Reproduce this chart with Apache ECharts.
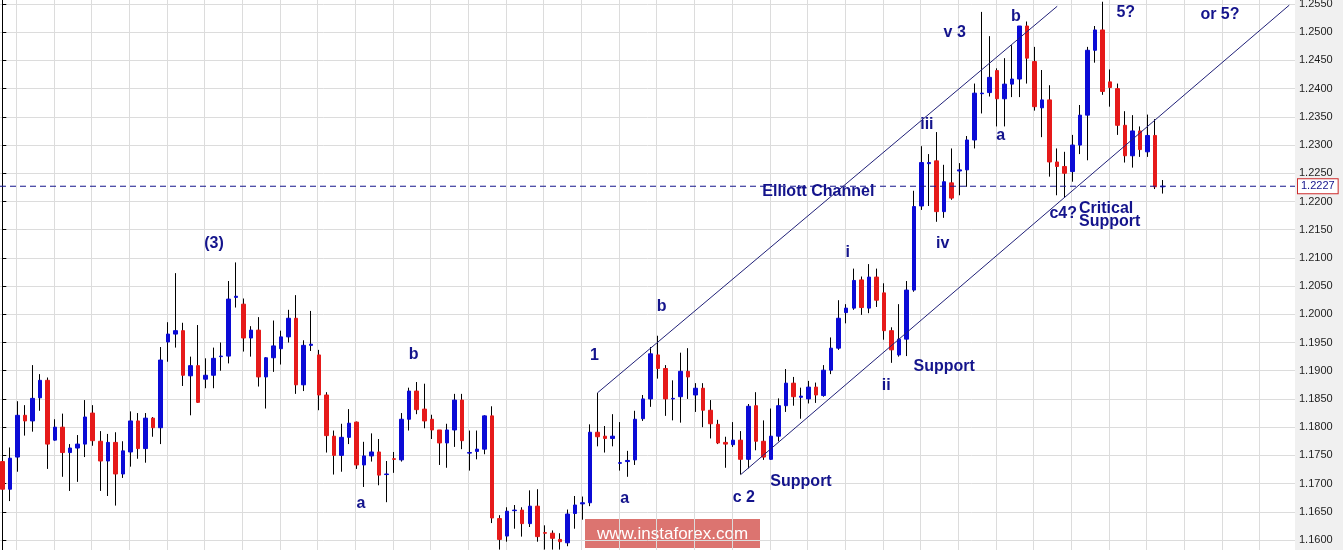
<!DOCTYPE html>
<html><head><meta charset="utf-8">
<script src="https://cdn.jsdelivr.net/npm/echarts@6/dist/echarts.min.js"></script>
<style>html,body{margin:0;padding:0;background:#f0f0f0;overflow:hidden}#c{width:1343px;height:550px}</style>
</head><body><div id="c"></div>
<script>
const opens = [
1.1739,1.1690,1.1747,1.1821,1.1811,1.1852,1.1883,1.1777,1.1800,1.1755,
1.1763,1.1770,1.1825,1.1775,1.1740,1.1773,1.1717,1.1756,1.1811,1.1762,
1.1816,1.1799,1.1951,1.1965,1.1971,1.1891,1.1909,1.1885,1.1892,1.1925,
1.1926,1.2030,1.2018,1.1958,1.1972,1.1889,1.1923,1.1939,1.1960,1.1993,
1.1875,1.1945,1.1928,1.1857,1.1784,1.1750,1.1782,1.1809,1.1733,1.1749,
1.1756,1.1716,1.1744,1.1742,1.1814,1.1864,1.1832,1.1814,1.1795,1.1772,
1.1795,1.1848,1.1754,1.1757,1.1761,1.1820,1.1638,1.1607,1.1652,1.1653,
1.1629,1.1660,1.1613,1.1612,1.1601,1.1595,1.1647,1.1664,1.1666,1.1791,
1.1784,1.1780,1.1736,1.1739,1.1742,1.1815,1.1850,1.1928,1.1904,1.1850,
1.1854,1.1899,1.1857,1.1869,1.1830,1.1805,1.1773,1.1769,1.1777,1.1743,
1.1838,1.1775,1.1743,1.1784,1.1838,1.1878,1.1853,1.1850,1.1871,1.1856,
1.1901,1.1940,1.2003,1.2011,1.2061,1.2011,1.2066,1.2038,1.1971,1.1928,
1.1956,1.2043,1.2192,1.2267,1.2272,1.2182,1.2233,1.2254,1.2256,1.2309,
1.2391,1.2393,1.2432,1.2382,1.2408,1.2417,1.2511,1.2448,1.2366,1.2380,
1.2270,1.2262,1.2253,1.2300,1.2353,1.2468,1.2504,1.2412,1.2400,1.2335,
1.2281,1.2325,1.2288,1.2317,1.2226];
const highs = [
1.1777,1.1764,1.1846,1.1839,1.1910,1.1894,1.1888,1.1814,1.1824,1.1770,
1.1786,1.1848,1.1839,1.1793,1.1788,1.1791,1.1775,1.1828,1.1825,1.1825,
1.1818,1.1942,1.1986,1.2073,1.1985,1.1925,1.1981,1.1922,1.1941,1.1950,
1.2059,1.2092,1.2028,1.1979,1.1995,1.1924,1.1989,1.1971,1.2008,1.2034,
1.1954,1.2006,1.1937,1.1862,1.1794,1.1806,1.1832,1.1810,1.1774,1.1789,
1.1779,1.1740,1.1756,1.1825,1.1870,1.1880,1.1877,1.1822,1.1795,1.1806,
1.1859,1.1859,1.1794,1.1794,1.1821,1.1837,1.1644,1.1658,1.1662,1.1658,
1.1688,1.1690,1.1626,1.1617,1.1612,1.1654,1.1678,1.1677,1.1805,1.1861,
1.1802,1.1823,1.1809,1.1758,1.1829,1.1857,1.1942,1.1962,1.1910,1.1883,
1.1932,1.1940,1.1878,1.1878,1.1848,1.1813,1.1783,1.1809,1.1793,1.1841,
1.1862,1.1812,1.1833,1.1851,1.1903,1.1889,1.1870,1.1882,1.1879,1.1910,
1.1959,1.2025,1.2018,1.2081,1.2067,1.2089,1.2081,1.2055,1.1977,1.2018,
1.2059,1.2219,1.2298,1.2284,1.2323,1.2265,1.2294,1.2268,1.2316,1.2409,
1.2536,1.2493,1.2436,1.2454,1.2477,1.2511,1.2519,1.2474,1.2433,1.2406,
1.2294,1.2288,1.2318,1.2371,1.2474,1.2511,1.2554,1.2434,1.2409,1.2360,
1.2353,1.2333,1.2354,1.2346,1.2238];
const lows = [
1.1661,1.1669,1.1721,1.1785,1.1792,1.1829,1.1726,1.1776,1.1712,1.1687,
1.1703,1.1747,1.1767,1.1687,1.1678,1.1661,1.1710,1.1730,1.1744,1.1737,
1.1783,1.1770,1.1916,1.1941,1.1873,1.1821,1.1843,1.1869,1.1869,1.1900,
1.1913,1.2012,1.1934,1.1925,1.1872,1.1833,1.1898,1.1911,1.1950,1.1859,
1.1864,1.1935,1.1830,1.1755,1.1716,1.1721,1.1770,1.1726,1.1694,1.1739,
1.1697,1.1667,1.1719,1.1739,1.1794,1.1823,1.1798,1.1779,1.1733,1.1728,
1.1765,1.1761,1.1723,1.1743,1.1752,1.1630,1.1583,1.1597,1.1620,1.1606,
1.1623,1.1597,1.1583,1.1583,1.1583,1.1589,1.1620,1.1636,1.1660,1.1766,
1.1755,1.1766,1.1723,1.1712,1.1733,1.1811,1.1836,1.1886,1.1820,1.1812,
1.1808,1.1850,1.1827,1.1800,1.1780,1.1770,1.1728,1.1765,1.1716,1.1727,
1.1759,1.1742,1.1742,1.1775,1.1827,1.1838,1.1815,1.1842,1.1843,1.1854,
1.1894,1.1937,1.1984,1.2008,1.1999,1.2002,1.2013,1.1955,1.1914,1.1925,
1.1926,1.2040,1.2185,1.2192,1.2164,1.2171,1.2203,1.2211,1.2226,1.2294,
1.2356,1.2386,1.2333,1.2333,1.2385,1.2385,1.2409,1.2361,1.2314,1.2244,
1.2211,1.2207,1.2235,1.2284,1.2273,1.2446,1.2389,1.2368,1.2318,1.2269,
1.2260,1.2279,1.2279,1.2222,1.2214];
const closes = [
1.1690,1.1745,1.1821,1.1811,1.1851,1.1883,1.1770,1.1800,1.1755,1.1763,
1.1770,1.1818,1.1776,1.1740,1.1773,1.1717,1.1758,1.1811,1.1762,1.1816,
1.1799,1.1919,1.1965,1.1971,1.1892,1.1909,1.1844,1.1892,1.1922,1.1926,
1.2027,1.2032,1.1958,1.1972,1.1889,1.1923,1.1944,1.1960,1.1993,1.1875,
1.1945,1.1947,1.1857,1.1785,1.1750,1.1782,1.1807,1.1733,1.1749,1.1756,
1.1715,1.1717,1.1743,1.1814,1.1864,1.1831,1.1811,1.1795,1.1772,1.1795,
1.1848,1.1776,1.1755,1.1761,1.1820,1.1639,1.1601,1.1651,1.1653,1.1629,
1.1660,1.1606,1.1612,1.1603,1.1597,1.1646,1.1662,1.1666,1.1791,1.1783,
1.1780,1.1784,1.1737,1.1741,1.1814,1.1850,1.1930,1.1904,1.1850,1.1851,
1.1899,1.1889,1.1869,1.1830,1.1806,1.1772,1.1770,1.1777,1.1743,1.1837,
1.1775,1.1747,1.1784,1.1838,1.1878,1.1854,1.1855,1.1871,1.1857,1.1901,
1.1940,1.1993,1.2011,1.2060,1.2012,1.2066,1.2025,1.1971,1.1937,1.1956,
1.2043,1.2191,1.2269,1.2269,1.2182,1.2235,1.2206,1.2256,1.2309,1.2392,
1.2392,1.2420,1.2382,1.2408,1.2417,1.2511,1.2454,1.2368,1.2380,1.2270,
1.2262,1.2250,1.2300,1.2353,1.2468,1.2504,1.2395,1.2402,1.2335,1.2281,
1.2325,1.2292,1.2317,1.2226,1.2227];

const lastPrice = 1.2227;
// channel lines: [candle index, price]
const upperChannel = [[79, 1.1861], [140, 1.2546]];
const lowerChannel = [[98, 1.1716], [170.8, 1.2548]];
// wave annotations: [text, candle index, price, align]
const annotations = [
  ['(3)', 28.1, 1.2126], ['b', 54.6, 1.1928], ['a', 47.6, 1.1665],
  ['1', 78.6, 1.1926], ['b', 87.5, 1.2013], ['a', 82.6, 1.1674],
  ['c 2', 98.4, 1.1675], ['Support', 106.0, 1.1704], ['i', 112.2, 1.2109],
  ['ii', 117.3, 1.1874], ['Support', 125.0, 1.1907], ['iii', 122.7, 1.2336],
  ['iv', 124.8, 1.2125], ['Elliott Channel', 108.3, 1.2218], ['v 3', 126.4, 1.2499],
  ['a', 132.5, 1.2316], ['b', 134.5, 1.2527], ['c4?', 140.8, 1.2179],
  ['Critical', 142.9, 1.2187, 'left'], ['Support', 142.9, 1.2164, 'left'],
  ['5?', 149.1, 1.2534], ['or 5?', 161.6, 1.2531]
];

const X_MIN = -0.3052, X_MAX = 171.557;
const BLUE = '#0b0bd6', RED = '#e61a1a', NAVY = '#14148c';
const FONT = 'Liberation Sans, Arial, sans-serif';
const wickData = opens.map((o, i) => [i, o, closes[i], lows[i], highs[i]]);
const bodyData = opens.map((o, i) => [i, o, closes[i], Math.min(o, closes[i]), Math.max(o, closes[i])]);
const vGrid = [];
for (let k = 0; k < 35; k++) vGrid.push({ xAxis: 1.85 + 5 * k });

const chart = echarts.init(document.getElementById('c'));
chart.setOption({
  animation: false,
  backgroundColor: '#f0f0f0',
  grid: { left: 0, right: 48, top: -24.21, bottom: -18.21, show: true, backgroundColor: '#ffffff', borderWidth: 0, containLabel: false, outerBoundsMode: 'none' },
  xAxis: { type: 'value', min: X_MIN, max: X_MAX, show: false },
  yAxis: {
    type: 'value', position: 'right', min: 1.155, max: 1.26, interval: 0.005,
    axisLine: { show: true, lineStyle: { color: '#000', width: 1 } },
    axisTick: { show: true, length: 4, inside: false, lineStyle: { color: '#000' } },
    axisLabel: { show: true, color: '#1e1e1e', fontSize: 11, fontFamily: FONT, margin: 4, formatter: v => v.toFixed(4) },
    splitLine: { show: true, lineStyle: { color: '#dcdcdc', width: 1 } }
  },
  series: [
    { type: 'line', data: [], silent: true, z: 1,
      markLine: { symbol: 'none', silent: true, z: 1, animation: false, label: { show: false },
        lineStyle: { color: '#dcdcdc', type: 'solid', width: 1 }, data: vGrid } },
    { type: 'candlestick', data: wickData, barWidth: 1, z: 3,
      itemStyle: { color: '#000', color0: '#000', borderColor: '#000', borderColor0: '#000', borderWidth: 1 } },
    { type: 'candlestick', data: bodyData, barWidth: 4, z: 4,
      itemStyle: { color: BLUE, color0: RED, borderColor: BLUE, borderColor0: RED, borderWidth: 1 } },
    { type: 'line', data: [[X_MIN, lastPrice], [X_MAX, lastPrice]], symbol: 'none', silent: true, z: 5, clip: false,
      lineStyle: { color: NAVY, type: [6, 4], width: 1 },
      endLabel: { show: true, distance: 3, formatter: () => lastPrice.toFixed(4), color: NAVY,
        backgroundColor: '#fff', borderColor: '#cc2a2a', borderWidth: 1, padding: [2, 3, 1, 3],
        fontSize: 11, fontFamily: FONT } },
    { type: 'line', data: upperChannel, symbol: 'none', silent: true, z: 5, lineStyle: { color: '#202078', width: 1 } },
    { type: 'line', data: lowerChannel, symbol: 'none', silent: true, z: 5, lineStyle: { color: '#202078', width: 1 } },
    { type: 'scatter', symbolSize: 1, silent: true, z: 6, itemStyle: { color: 'transparent', opacity: 1 },
      label: { show: true, position: 'inside', formatter: '{b}', color: NAVY, opacity: 1, textBorderWidth: 0,
        fontSize: 16, fontWeight: 'bold', fontFamily: FONT },
      data: annotations.map(a => {
        const d = { name: a[0], value: [a[1], a[2]] };
        if (a[3]) d.label = { align: a[3] };
        return d;
      }) }
  ],
  graphic: [{
    type: 'group', left: 585, top: 519, z: 100,
    children: [
      { type: 'rect', shape: { x: 0, y: 0, width: 175, height: 29 }, style: { fill: 'rgba(212,86,80,0.82)' } },
      { type: 'text', x: 87.5, y: 15, style: { text: 'www.instaforex.com', fill: '#ffffff', fontSize: 17,
        fontFamily: FONT, align: 'center', verticalAlign: 'middle' } }
    ]
  }]
});
</script></body></html>
